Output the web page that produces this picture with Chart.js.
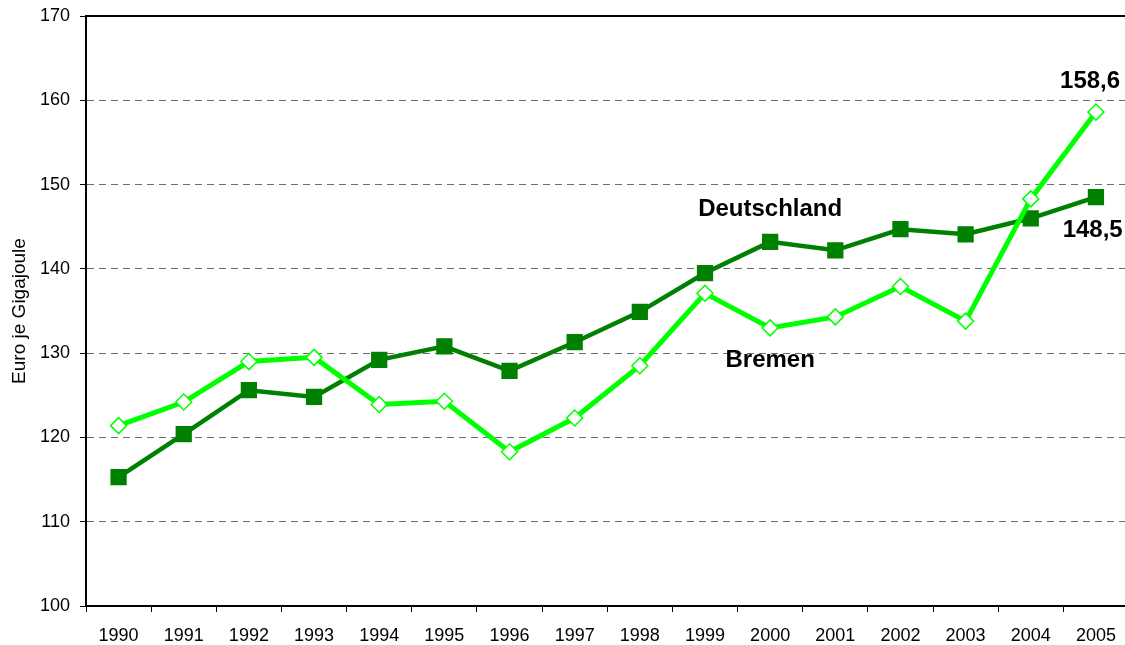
<!DOCTYPE html>
<html lang="de">
<head>
  <meta charset="UTF-8">
  <title>Euro je Gigajoule</title>
  <script src="https://cdn.jsdelivr.net/npm/chart.js"></script>
  <style>
    html, body { margin: 0; padding: 0; background: #fff; overflow: hidden; }
    .wrap { width: 1140px; height: 645px; position: relative; }
  </style>
</head>
<body>
  <div class="wrap"><canvas id="chart"></canvas></div>

  <script>
    // Data
    const years = ['1990', '1991', '1992', '1993', '1994', '1995', '1996', '1997',
                   '1998', '1999', '2000', '2001', '2002', '2003', '2004', '2005'];
    const deutschland = [115.3, 120.4, 125.6, 124.8, 129.2, 130.8, 127.9, 131.3,
                         134.9, 139.5, 143.2, 142.2, 144.7, 144.1, 146.0, 148.5];
    const bremen = [121.4, 124.2, 129.0, 129.5, 123.9, 124.3, 118.3, 122.3,
                    128.5, 137.1, 133.0, 134.3, 137.9, 133.8, 148.3, 158.6];
    const yTicks = [100, 110, 120, 130, 140, 150, 160, 170];

    const FONT = '"Liberation Sans", Arial, sans-serif';

    // text notes anchored in data space (category index, value)
    const notes = [
      { text: 'Deutschland', cat: 10, val: 147.1 },
      { text: 'Bremen', cat: 10, val: 129.1 },
      { text: '158,6', cat: 14.91, val: 162.2 },
      { text: '148,5', cat: 14.95, val: 144.6 }
    ];

    const notesPlugin = {
      id: 'notes',
      afterDatasetsDraw(chart) {
        const { ctx, scales: { x, y }, chartArea } = chart;
        ctx.save();
        // top frame line
        ctx.strokeStyle = '#000';
        ctx.lineWidth = 2;
        ctx.beginPath();
        ctx.moveTo(chartArea.left, chartArea.top);
        ctx.lineTo(chartArea.right, chartArea.top);
        ctx.stroke();

        ctx.fillStyle = '#000';
        ctx.font = 'bold 24px ' + FONT;
        ctx.textAlign = 'center';
        ctx.textBaseline = 'middle';
        notes.forEach(n => {
          const px = x.getPixelForValue(0) + n.cat * (x.getPixelForValue(1) - x.getPixelForValue(0));
          ctx.fillText(n.text, px, y.getPixelForValue(n.val));
        });
        ctx.restore();
      }
    };

    new Chart(document.getElementById('chart').getContext('2d'), {
      type: 'line',
      data: {
        labels: years,
        datasets: [
          {
            label: 'Deutschland',
            data: deutschland,
            borderColor: '#008000',
            backgroundColor: '#008000',
            borderWidth: 4.5,
            tension: 0,
            pointStyle: 'rect',
            pointRadius: 11.5,
            pointBorderWidth: 0,
            pointBackgroundColor: '#008000',
            order: 1
          },
          {
            label: 'Bremen',
            data: bremen,
            borderColor: '#00ff00',
            backgroundColor: '#ffffff',
            borderWidth: 5,
            tension: 0,
            pointStyle: 'rectRot',
            pointRadius: 8,
            pointBorderWidth: 1.5,
            pointBorderColor: '#00ff00',
            pointBackgroundColor: '#ffffff',
            order: 0
          }
        ]
      },
      options: {
        responsive: true,
        maintainAspectRatio: false,
        animation: false,
        layout: { padding: { top: 16, right: 0, left: 0, bottom: 0 } },
        plugins: {
          legend: { display: false },
          tooltip: { enabled: false }
        },
        scales: {
          x: {
            offset: true,
            grid: {
              offset: true,
              drawOnChartArea: false,
              drawTicks: true,
              tickLength: 6,
              tickColor: '#000',
              tickWidth: 1
            },
            border: { color: '#000', width: 2 },
            ticks: {
              color: '#000',
              font: { family: FONT, size: 18 },
              padding: 13,
              autoSkip: false,
              maxRotation: 0
            },
            afterFit(scale) { scale.height = 39; }
          },
          y: {
            min: 100,
            max: 170,
            afterBuildTicks(scale) { scale.ticks = yTicks.map(v => ({ value: v })); },
            grid: {
              color: ctx => (ctx.tick && (ctx.tick.value === 100 || ctx.tick.value === 170)) ? 'rgba(0,0,0,0)' : '#6e6e6e',
              lineWidth: 1,
              drawTicks: true,
              tickLength: 6,
              tickColor: '#000'
            },
            border: { color: '#000', width: 2, dash: [7, 5] },
            ticks: {
              color: '#000',
              font: { family: FONT, size: 18 },
              padding: 10
            },
            title: {
              display: true,
              text: 'Euro je Gigajoule',
              color: '#000',
              font: { family: FONT, size: 19 },
              padding: { top: 8, bottom: 0 }
            },
            afterFit(scale) {
              scale.width = 86;
              scale.paddingTop = 0;
              scale.paddingBottom = 0;
            }
          }
        }
      },
      plugins: [notesPlugin]
    });
  </script>
</body>
</html>
